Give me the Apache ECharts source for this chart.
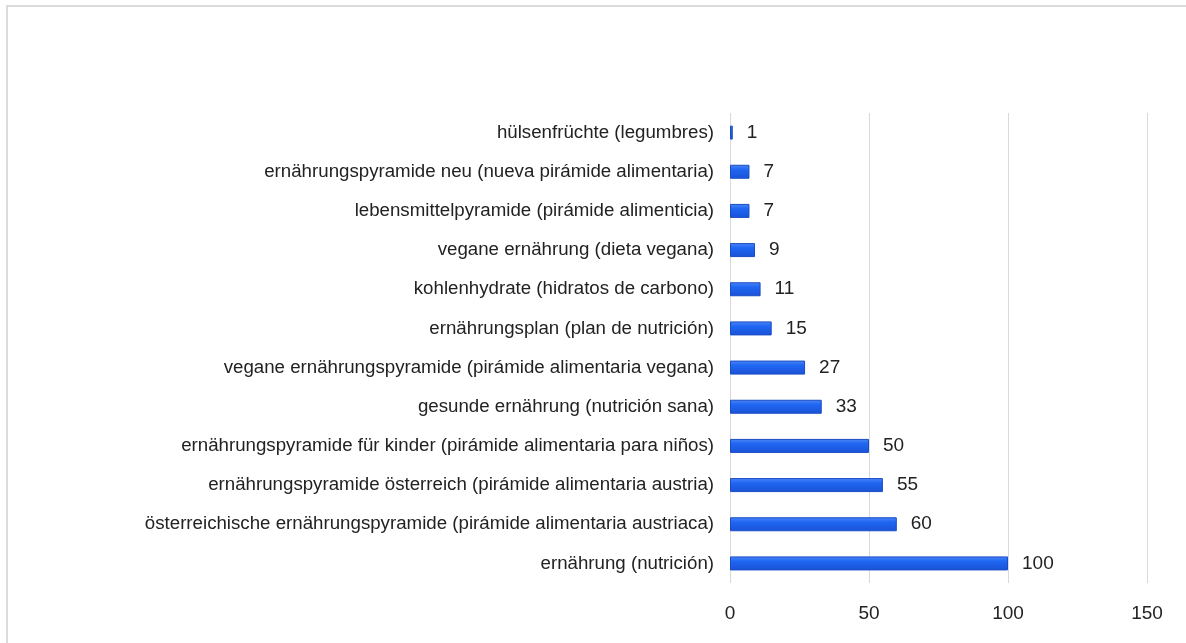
<!DOCTYPE html>
<html>
<head>
<meta charset="utf-8">
<script src="https://cdn.jsdelivr.net/npm/echarts@6/dist/echarts.min.js"></script>
<style>
    html, body { margin: 0; padding: 0; background: #fff; }
    #chart { width: 1186px; height: 643px; }
</style>
</head>
<body>
<div id="chart"></div>
<script>
// categories listed top to bottom
var categories = [
    'hülsenfrüchte (legumbres)',
    'ernährungspyramide neu (nueva pirámide alimentaria)',
    'lebensmittelpyramide (pirámide alimenticia)',
    'vegane ernährung (dieta vegana)',
    'kohlenhydrate (hidratos de carbono)',
    'ernährungsplan (plan de nutrición)',
    'vegane ernährungspyramide (pirámide alimentaria vegana)',
    'gesunde ernährung (nutrición sana)',
    'ernährungspyramide für kinder (pirámide alimentaria para niños)',
    'ernährungspyramide österreich (pirámide alimentaria austria)',
    'österreichische ernährungspyramide (pirámide alimentaria austriaca)',
    'ernährung (nutrición)'
];
var values = [1, 7, 7, 9, 11, 15, 27, 33, 50, 55, 60, 100];

var textFont = '"Liberation Sans", Arial, sans-serif';

var option = {
    animation: false,
    graphic: [
        // frame (left and top edges only)
        { type: 'rect', shape: { x: 6, y: 5, width: 1180, height: 2 }, style: { fill: '#dcdcdc' }, silent: true },
        { type: 'rect', shape: { x: 6, y: 5, width: 2, height: 638 }, style: { fill: '#dcdcdc' }, silent: true }
    ],
    grid: {
        left: 730,
        right: 39,
        top: 113,
        bottom: 60,
        containLabel: false
    },
    xAxis: {
        type: 'value',
        min: 0,
        max: 150,
        interval: 50,
        axisLine: { show: false },
        axisTick: { show: false },
        axisLabel: {
            color: '#222',
            fontSize: 19,
            fontFamily: textFont,
            margin: 21
        },
        splitLine: {
            lineStyle: { color: '#d9d9d9', width: 1 }
        }
    },
    yAxis: {
        type: 'category',
        inverse: true,
        data: categories,
        axisLine: { show: false },
        axisTick: { show: false },
        axisLabel: {
            color: '#222',
            fontSize: 18.7,
            fontFamily: textFont,
            margin: 16
        }
    },
    series: [
        {
            type: 'bar',
            data: values,
            barWidth: 14,
            itemStyle: {
                color: new echarts.graphic.LinearGradient(0, 0, 0, 1, [
                    { offset: 0, color: '#4d86f7' },
                    { offset: 0.35, color: '#1f66f2' },
                    { offset: 1, color: '#1a52d6' }
                ]),
                borderColor: '#1a4cc4',
                borderWidth: 1
            },
            label: {
                show: true,
                position: 'right',
                distance: 14,
                color: '#222',
                fontSize: 19,
                fontFamily: textFont
            }
        }
    ]
};

var chart = echarts.init(document.getElementById('chart'));
chart.setOption(option);

window.addEventListener('resize', function () {
    chart.resize();
});
</script>
</body>
</html>
